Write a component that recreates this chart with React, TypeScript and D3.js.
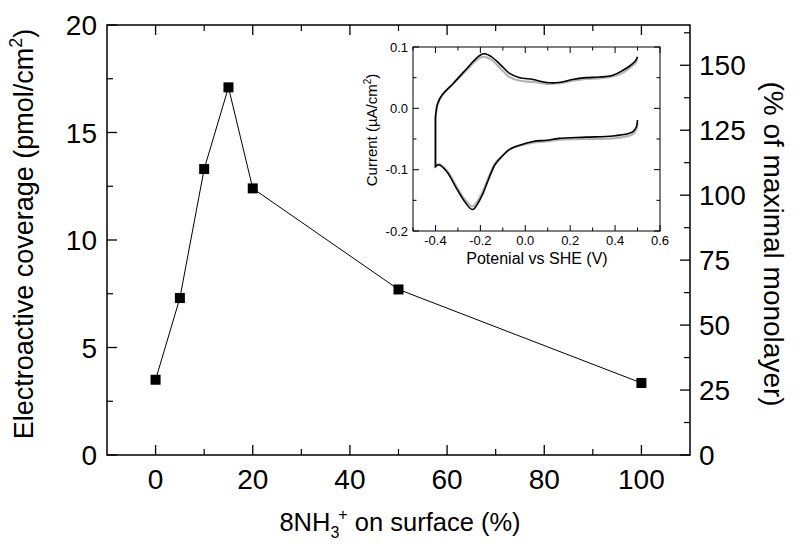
import * as d3 from "d3";

// main plot data
const surfacePct = [0, 5, 10, 15, 20, 50, 100];
const coverage = [3.5, 7.3, 13.3, 17.1, 12.4, 7.7, 3.35];

// inset CV, anodic (upper) branch
const upperV = [-0.4, -0.39, -0.37, -0.32, -0.26, -0.225, -0.2, -0.18, -0.15, -0.11, -0.07, -0.025, 0.035, 0.095, 0.15, 0.21, 0.27, 0.33, 0.39, 0.435, 0.465, 0.49, 0.5];
const upperBlack = [-0.015, 0.008, 0.022, 0.041, 0.065, 0.079, 0.087, 0.089, 0.084, 0.071, 0.057, 0.05, 0.047, 0.042, 0.042, 0.047, 0.05, 0.051, 0.054, 0.062, 0.069, 0.077, 0.084];
const upperGray = [-0.015, 0.007, 0.021, 0.04, 0.063, 0.076, 0.083, 0.084, 0.079, 0.065, 0.051, 0.045, 0.043, 0.04, 0.041, 0.045, 0.048, 0.049, 0.052, 0.058, 0.066, 0.074, 0.081];

// inset CV, cathodic (lower) branch, scanned from 0.5 back to -0.4
const lowerV = [0.5, 0.495, 0.48, 0.46, 0.39, 0.27, 0.15, 0.095, 0.035, -0.025, -0.07, -0.105, -0.135, -0.165, -0.195, -0.235, -0.27, -0.31, -0.35, -0.385, -0.4];
const lowerBlack = [-0.019, -0.03, -0.038, -0.041, -0.045, -0.047, -0.049, -0.052, -0.054, -0.06, -0.067, -0.079, -0.092, -0.117, -0.144, -0.165, -0.152, -0.128, -0.103, -0.092, -0.095];
const lowerGray = [-0.024, -0.034, -0.042, -0.045, -0.049, -0.05, -0.051, -0.054, -0.056, -0.061, -0.067, -0.078, -0.09, -0.114, -0.14, -0.16, -0.148, -0.125, -0.101, -0.091, -0.094];

const xMajor = [0, 20, 40, 60, 80, 100];
const xMinor = [10, 30, 50, 70, 90];
const yMajor = [0, 5, 10, 15, 20];
const yMinor = [2.5, 7.5, 12.5, 17.5];
const rMajor = [0, 25, 50, 75, 100, 125, 150];
const rMinor = [12.5, 37.5, 62.5, 87.5, 112.5, 137.5, 162.5];
const ixMajor = [-0.4, -0.2, 0, 0.2, 0.4, 0.6];
const ixMinor = [-0.5, -0.3, -0.1, 0.1, 0.3, 0.5];
const iyMajor = [-0.2, -0.1, 0, 0.1];
const iyMinor = [-0.15, -0.05, 0.05];

const FONT = "'Liberation Sans', Arial, sans-serif";

const fmt1 = (t: number) => d3.format(".1f")(t).replace("−", "-");

export default function App() {
  const W = 800;
  const H = 548;
  const left = 107, right = 690, top = 25, bottom = 455;

  const x = d3.scaleLinear().domain([-10, 110]).range([left, right]);
  const y = d3.scaleLinear().domain([0, 20]).range([bottom, top]);
  const yr = d3.scaleLinear().domain([0, 165.5]).range([bottom, top]);

  const iL = 413, iR = 660, iT = 47, iB = 231;
  const ix = d3.scaleLinear().domain([-0.5, 0.6]).range([iL, iR]);
  const iy = d3.scaleLinear().domain([-0.2, 0.1]).range([iB, iT]);

  const mainLine = d3.line<number>().x((_, i) => x(surfacePct[i])).y((d) => y(d));

  const cvLine = d3
    .line<[number, number]>()
    .x((d) => ix(d[0]))
    .y((d) => iy(d[1]))
    .curve(d3.curveCatmullRom.alpha(0.5));

  const cvPath = (lower: number[], upper: number[]) => {
    const lo = lowerV.map((v, i) => [v, lower[i]] as [number, number]);
    const up = upperV.map((v, i) => [v, upper[i]] as [number, number]);
    return (cvLine(lo) || "") + (cvLine(up) || "").replace(/^M/, "L");
  };

  const MAJ = 10, MIN = 6;
  const iMAJ = 6, iMIN = 3.5;
  const TICK_FS = 28;

  return (
    <svg width={W} height={H} style={{ position: "absolute", left: 0, top: 0 }} fontFamily={FONT}>
      <rect width={W} height={H} fill="#fff" />

      {/* main frame */}
      <rect x={left} y={top} width={right - left} height={bottom - top} fill="none" stroke="#000" strokeWidth={1.5} />

      {/* x ticks bottom and top */}
      {xMajor.map((t) => (
        <g key={"xm" + t}>
          <line x1={x(t)} x2={x(t)} y1={bottom} y2={bottom - MAJ} stroke="#000" strokeWidth={1.3} />
          <line x1={x(t)} x2={x(t)} y1={top} y2={top + MAJ} stroke="#000" strokeWidth={1.3} />
          <text x={x(t)} y={489} fontSize={TICK_FS} textAnchor="middle">{t}</text>
        </g>
      ))}
      {xMinor.map((t) => (
        <g key={"xn" + t}>
          <line x1={x(t)} x2={x(t)} y1={bottom} y2={bottom - MIN} stroke="#000" strokeWidth={1.2} />
          <line x1={x(t)} x2={x(t)} y1={top} y2={top + MIN} stroke="#000" strokeWidth={1.2} />
        </g>
      ))}

      {/* left y ticks */}
      {yMajor.map((t) => (
        <g key={"ym" + t}>
          <line x1={left} x2={left + MAJ} y1={y(t)} y2={y(t)} stroke="#000" strokeWidth={1.3} />
          <text x={97} y={y(t) + 10} fontSize={TICK_FS} textAnchor="end">{t}</text>
        </g>
      ))}
      {yMinor.map((t) => (
        <line key={"yn" + t} x1={left} x2={left + MIN} y1={y(t)} y2={y(t)} stroke="#000" strokeWidth={1.2} />
      ))}

      {/* right y ticks */}
      {rMajor.map((t) => (
        <g key={"rm" + t}>
          <line x1={right} x2={right - MAJ} y1={yr(t)} y2={yr(t)} stroke="#000" strokeWidth={1.3} />
          <text x={699} y={yr(t) + 10} fontSize={TICK_FS} textAnchor="start">{t}</text>
        </g>
      ))}
      {rMinor.map((t) => (
        <line key={"rn" + t} x1={right} x2={right - MIN} y1={yr(t)} y2={yr(t)} stroke="#000" strokeWidth={1.2} />
      ))}

      {/* axis titles */}
      <text x={400} y={531} fontSize={25.5} textAnchor="middle">
        8NH<tspan fontSize={16} dy={7}>3</tspan>
        <tspan fontSize={16} dy={-18} dx={-1}>+</tspan>
        <tspan dy={11}> on surface (%)</tspan>
      </text>
      <text transform={`translate(33,234) rotate(-90)`} fontSize={27} textAnchor="middle">
        Electroactive coverage (pmol/cm<tspan fontSize={18} dy={-11}>2</tspan>
        <tspan dy={11}>)</tspan>
      </text>
      <text transform={`translate(764,244) rotate(90)`} fontSize={28} textAnchor="middle">
        (% of maximal monolayer)
      </text>

      {/* main series */}
      <path d={mainLine(coverage) || ""} fill="none" stroke="#000" strokeWidth={1} />
      {coverage.map((v, i) => (
        <rect key={"p" + i} x={x(surfacePct[i]) - 5} y={y(v) - 5} width={10} height={10} fill="#000" />
      ))}

      {/* inset */}
      <rect x={iL} y={iT} width={iR - iL} height={iB - iT} fill="#fff" stroke="#000" strokeWidth={1} />
      {ixMajor.map((t) => (
        <g key={"ixm" + t}>
          <line x1={ix(t)} x2={ix(t)} y1={iB} y2={iB - iMAJ} stroke="#000" strokeWidth={1} />
          <line x1={ix(t)} x2={ix(t)} y1={iT} y2={iT + iMAJ} stroke="#000" strokeWidth={1} />
          <text x={ix(t)} y={245} fontSize={13} textAnchor="middle">{fmt1(t)}</text>
        </g>
      ))}
      {ixMinor.map((t) => (
        <g key={"ixn" + t}>
          <line x1={ix(t)} x2={ix(t)} y1={iB} y2={iB - iMIN} stroke="#000" strokeWidth={1} />
          <line x1={ix(t)} x2={ix(t)} y1={iT} y2={iT + iMIN} stroke="#000" strokeWidth={1} />
        </g>
      ))}
      {iyMajor.map((t) => (
        <g key={"iym" + t}>
          <line x1={iL} x2={iL + iMAJ} y1={iy(t)} y2={iy(t)} stroke="#000" strokeWidth={1} />
          <line x1={iR} x2={iR - iMAJ} y1={iy(t)} y2={iy(t)} stroke="#000" strokeWidth={1} />
          <text x={408} y={iy(t) + 4.5} fontSize={13} textAnchor="end">{fmt1(t)}</text>
        </g>
      ))}
      {iyMinor.map((t) => (
        <g key={"iyn" + t}>
          <line x1={iL} x2={iL + iMIN} y1={iy(t)} y2={iy(t)} stroke="#000" strokeWidth={1} />
          <line x1={iR} x2={iR - iMIN} y1={iy(t)} y2={iy(t)} stroke="#000" strokeWidth={1} />
        </g>
      ))}
      <text x={537} y={264} fontSize={16} textAnchor="middle">Potenial vs SHE (V)</text>
      <text transform={`translate(377,130) rotate(-90)`} fontSize={15} textAnchor="middle">
        Current (µA/cm<tspan fontSize={10} dy={-6}>2</tspan>
        <tspan dy={6}>)</tspan>
      </text>

      <path d={cvPath(lowerGray, upperGray)} fill="none" stroke="#b5b5b5" strokeWidth={2.2} />
      <path d={cvPath(lowerBlack, upperBlack)} fill="none" stroke="#000" strokeWidth={1.6} />
    </svg>
  );
}
